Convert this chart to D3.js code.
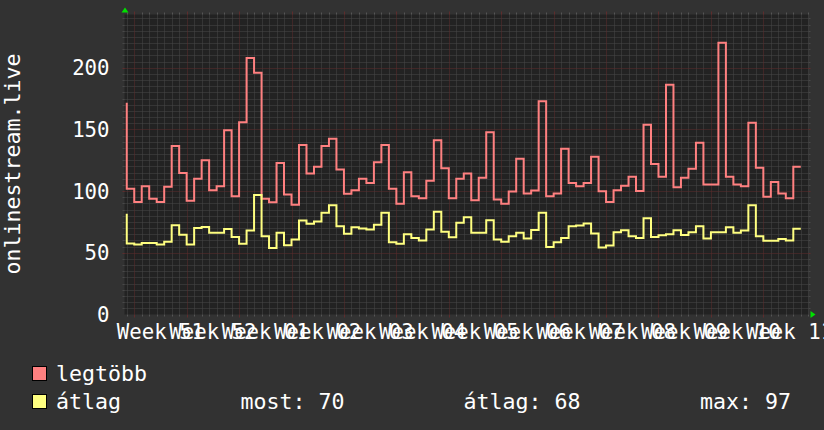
<!DOCTYPE html>
<html><head><meta charset="utf-8">
<script src="https://cdn.jsdelivr.net/npm/d3@7"></script>
<style>html,body{margin:0;padding:0;background:#323232;}svg{display:block}</style>
</head><body>
<script>
// ---- data ----
const weekLabels = ["Week 51","Week 52","Week 01","Week 02","Week 03","Week 04","Week 05","Week 06","Week 07","Week 08","Week 09","Week 10","Week 11"];
// daily values; element i is the day ending at day index (i-1), day 0 = Monday of Week 51
const maxVals = [171.6,101.9,91.3,104,93.8,91.3,103.5,136.5,114.8,92.2,110,125,100.8,104,149.4,95.9,155.9,208,195.9,93.8,91,122.9,97.3,88.9,137.5,114.3,119.7,136.5,142.4,117.5,97.8,100.8,110,106.7,123.5,137.5,101.9,89.7,115.4,95.9,94.3,108.4,141.3,118.6,94.3,110,114.3,92.6,110.8,147.8,93.2,89.7,99.7,126.2,98.1,100.5,172.9,95.9,98.1,134.3,106.7,104,106.7,127.8,100,91.3,100.8,104.3,111.6,100.2,153.8,122.1,111.6,186.2,103.2,110.8,118.1,139.2,105.4,105.4,220.2,111.6,105.4,104,155.4,118.9,95.4,107.5,98.1,94.3,119.7];
const avgVals = [81.6,57.5,56.7,58,58,56.7,58.9,72.4,64.6,56.7,70.2,71,66.2,66.2,69.4,62.9,57.3,68.1,96.8,63.5,54,66.2,56.2,60.8,76.2,73.5,75.4,82.4,88.6,71.6,65.4,70.8,69.7,68.9,72.7,82.4,58.6,57.3,65.1,62.1,60,68.9,83.2,67,62.7,74.3,78.9,66.2,66.2,76.5,60.8,58.9,63.5,66.2,61.6,68.6,82.4,54.8,58.6,62.1,71.6,72.1,73.8,65.6,54.3,55.9,66.7,68.4,63.5,62.1,78.1,62.9,64.3,65.1,68.4,64.5,66.7,71.6,61.6,66.7,66.7,70.8,66.2,68.1,88.6,63.5,59.7,59.7,61.3,60,69.6];
const yTicks = [0,50,100,150,200];
const seriesNames = ["legtöbb","átlag"];
const statLabels = ["most","átlag","max"];
const statValues = [70,68,97];
const yTitle = "onlinestream.live";
const dayDomain = [-1.3, 90.03];
const yMax = 243.2;

// ---- layout ----
const W=824,H=430, X0=124.5, X1=808.5, Y0=314.5, YT=14.5;
const FONT = "'DejaVu Sans Mono', monospace";
const AXF = 20.7, LGF = 21.6, CHAR_W = 12.46;
const colRed = "#ff8080", colYel = "#ffff80";

const svg = d3.select("body").append("svg").attr("width",W).attr("height",H);
svg.append("rect").attr("width",W).attr("height",H).attr("fill","#323232");
svg.append("rect").attr("x",X0).attr("y",YT).attr("width",X1-X0).attr("height",Y0-YT).attr("fill","#222222");

const x = d3.scaleLinear().domain(dayDomain).range([X0,X1]);
const y = d3.scaleLinear().domain([0,yMax]).range([Y0,YT]);
const px = v => Math.round(v)+0.5;

const minorCol="#484848", majorCol="#5e2c2c";
const grid = svg.append("g");
d3.range(5, yMax, 5).filter(v => v%50!==0).forEach(v=>{
  const yy = px(y(v));
  grid.append("line").attr("x1",X0).attr("x2",X1).attr("y1",yy).attr("y2",yy).attr("stroke",minorCol).attr("stroke-dasharray","1,1");
  grid.append("line").attr("x1",X0-2).attr("x2",X0).attr("y1",yy).attr("y2",yy).attr("stroke",minorCol);
  grid.append("line").attr("x1",X1).attr("x2",X1+2).attr("y1",yy).attr("y2",yy).attr("stroke",minorCol);
});
d3.range(Math.ceil(dayDomain[0]), dayDomain[1]).filter(d => d%7!==0).forEach(d=>{
  const xx = px(x(d));
  grid.append("line").attr("x1",xx).attr("x2",xx).attr("y1",YT).attr("y2",Y0).attr("stroke",minorCol).attr("stroke-dasharray","1,1");
  grid.append("line").attr("x1",xx).attr("x2",xx).attr("y1",YT-2).attr("y2",YT).attr("stroke","#555");
  grid.append("line").attr("x1",xx).attr("x2",xx).attr("y1",Y0).attr("y2",Y0+2).attr("stroke","#555");
});
yTicks.filter(v=>v>0).forEach(v=>{
  const yy = px(y(v));
  grid.append("line").attr("x1",X0).attr("x2",X1).attr("y1",yy).attr("y2",yy).attr("stroke",majorCol).attr("stroke-dasharray","1,1");
  grid.append("line").attr("x1",X0-2).attr("x2",X0).attr("y1",yy).attr("y2",yy).attr("stroke",majorCol);
  grid.append("line").attr("x1",X1).attr("x2",X1+2).attr("y1",yy).attr("y2",yy).attr("stroke",majorCol);
});
weekLabels.forEach((lab,k)=>{
  const xx = px(x(7*k));
  grid.append("line").attr("x1",xx).attr("x2",xx).attr("y1",YT).attr("y2",Y0).attr("stroke",majorCol).attr("stroke-dasharray","1,1");
  grid.append("line").attr("x1",xx).attr("x2",xx).attr("y1",YT-3).attr("y2",YT).attr("stroke",majorCol);
  grid.append("line").attr("x1",xx).attr("x2",xx).attr("y1",Y0).attr("y2",Y0+3).attr("stroke",majorCol);
});

// series
svg.append("clipPath").attr("id","clip").append("rect").attr("x",X0).attr("y",YT-2).attr("width",X1-X0).attr("height",Y0-YT+2);
const line = d3.line().x((d,i)=>x(i-1)).y(d=>y(d)).curve(d3.curveStepBefore);
const gS = svg.append("g").attr("clip-path","url(#clip)");
gS.append("path").datum(maxVals).attr("d",line).attr("fill","none").attr("stroke",colRed).attr("stroke-width",2);
gS.append("path").datum(avgVals).attr("d",line).attr("fill","none").attr("stroke",colYel).attr("stroke-width",2);

// arrows
svg.append("path").attr("d",`M${X1+2},${Y0-3.5} L${X1+2},${Y0+3.5} L${X1+7},${Y0} Z`).attr("fill","#00e000");
svg.append("path").attr("d",`M${X0-3},${YT-2} L${X0+4},${YT-2} L${X0+0.5},${YT-7} Z`).attr("fill","#00e000");

// y labels
svg.append("g").selectAll("text").data(yTicks).join("text")
  .attr("x",109.5).attr("y",d=>y(d)+7.5).attr("text-anchor","end")
  .attr("font-family",FONT).attr("font-size",AXF).attr("fill","#ffffff").text(d=>d);
// x labels (centered on each week, overlapping as in the original)
svg.append("g").selectAll("text").data(weekLabels).join("text")
  .attr("x",(d,k)=>x(7*k+3.5) - d.length*CHAR_W/2).attr("y",339)
  .attr("textLength",d=>d.length*CHAR_W).attr("lengthAdjust","spacing")
  .attr("font-family",FONT).attr("font-size",AXF).attr("fill","#ffffff").text(d=>d);
// y title
svg.append("text").attr("transform","translate(20,164) rotate(-90)").attr("text-anchor","middle")
  .attr("font-family",FONT).attr("font-size",LGF).attr("fill","#ffffff").text(yTitle);

// legend
const legCols=[colRed,colYel];
seriesNames.forEach((n,i)=>{
  const by = 381 + i*28;
  svg.append("rect").attr("x",32.5).attr("y",by-14.5).attr("width",14).attr("height",14).attr("fill",legCols[i]).attr("stroke","#000").attr("stroke-width",1);
  svg.append("text").attr("x",56).attr("y",by).attr("font-family",FONT).attr("font-size",LGF).attr("fill","#fff").text(n);
});
const statX=[240.5,463.5,700];
statLabels.forEach((s,i)=>{
  svg.append("text").attr("x",statX[i]).attr("y",409).attr("font-family",FONT).attr("font-size",LGF).attr("fill","#fff").text(s+": "+statValues[i]);
});
</script>
</body></html>
